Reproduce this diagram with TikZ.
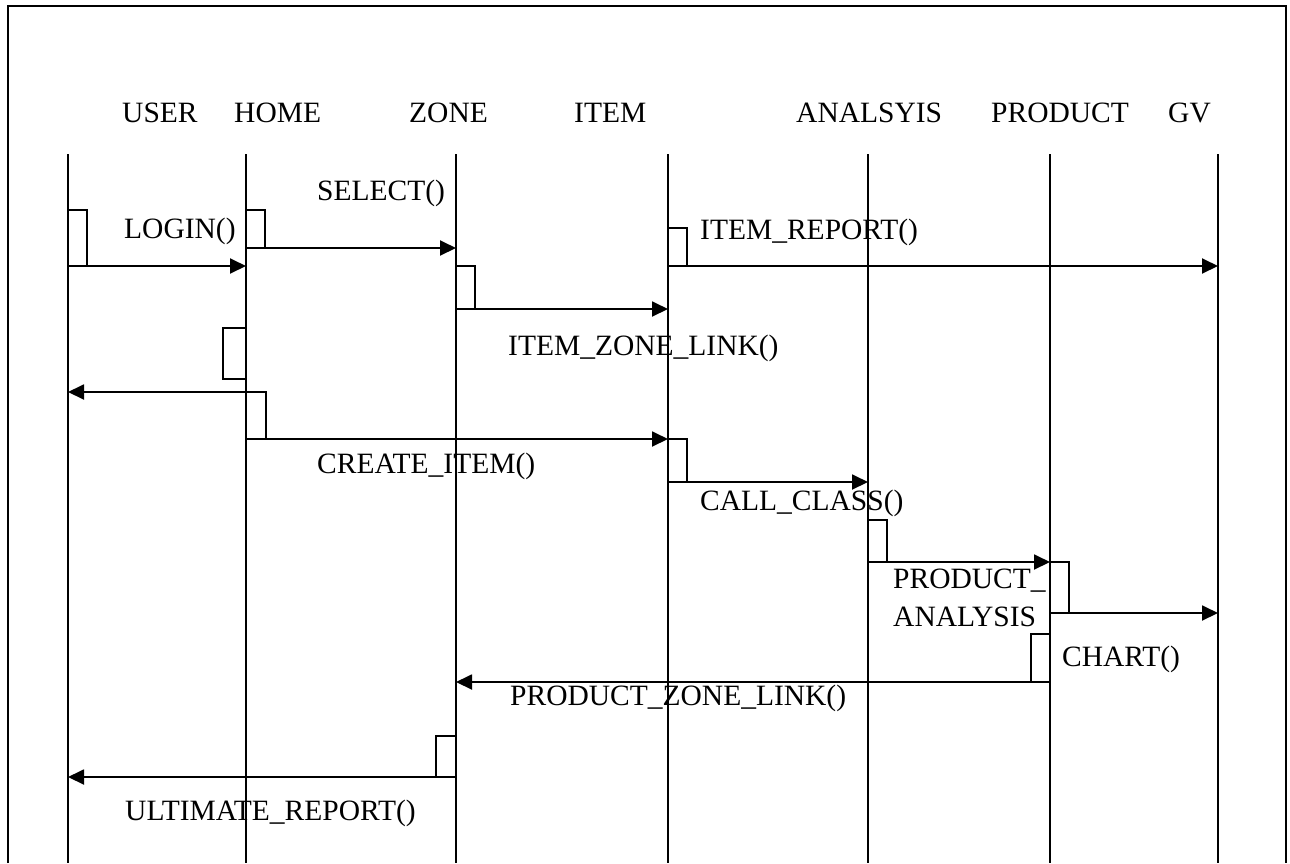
\documentclass[tikz,border=0pt]{standalone}
\usepackage{fontspec}
\setmainfont{Liberation Serif}
\usetikzlibrary{arrows.meta}
\begin{document}
\begin{tikzpicture}[x=1pt,y=-1pt,
  lbl/.style={anchor=base west, inner sep=0pt, font=\fontsize{29.5}{35}\selectfont},
  life/.style={line width=1.9pt},
  frame/.style={line width=2.4pt},
  actbox/.style={draw, line width=1.9pt, inner sep=0pt, outer sep=0pt, minimum width=19pt},
  msg/.style={line width=1.9pt, -{Triangle[length=16pt,width=15pt]}}
]
\useasboundingbox (0,0) rectangle (1290,863);
% frame
\coordinate (fbl) at (8,863);
\coordinate (ftl) at (8,6);
\coordinate (ftr) at (1286,6);
\coordinate (fbr) at (1286,863);
\draw[frame] (fbl) -- (ftl) -- (ftr) -- (fbr);
% headers
\node[lbl] (hUser) at (122,122) {USER};
\node[lbl] (hHome) at (234,122) {HOME};
\node[lbl] (hZone) at (409,122) {ZONE};
\node[lbl] (hItem) at (574,122) {ITEM};
\node[lbl] (hAna)  at (796,122) {ANALSYIS};
\node[lbl] (hProd) at (991,122) {PRODUCT};
\node[lbl] (hGv)   at (1168,122) {GV};
% lifelines
\coordinate (userT) at (68,154);   \coordinate (userB) at (68,863);
\coordinate (homeT) at (246,154);  \coordinate (homeB) at (246,863);
\coordinate (zoneT) at (456,154);  \coordinate (zoneB) at (456,863);
\coordinate (itemT) at (668,154);  \coordinate (itemB) at (668,863);
\coordinate (anaT)  at (868,154);  \coordinate (anaB)  at (868,863);
\coordinate (prodT) at (1050,154); \coordinate (prodB) at (1050,863);
\coordinate (gvT)   at (1218,154); \coordinate (gvB)   at (1218,863);
\foreach \l in {user,home,zone,item,ana,prod,gv}
  \draw[life] (\l T) -- (\l B);
% activation boxes
\node[actbox, minimum height=56pt, anchor=north west] (b1) at (68,210) {};
\node[actbox, minimum height=38pt, anchor=north west] (b2) at (246,210) {};
\node[actbox, minimum height=38pt, anchor=north west] (b3) at (668,228) {};
\node[actbox, minimum height=43pt, anchor=north west] (b4) at (456,266) {};
\node[actbox, minimum width=23pt, minimum height=51pt, anchor=north east] (b5) at (246,328) {};
\node[actbox, minimum width=20pt, minimum height=47pt, anchor=north west] (b6) at (246,392) {};
\node[actbox, minimum height=43pt, anchor=north west] (b7) at (668,439) {};
\node[actbox, minimum height=42pt, anchor=north west] (b8) at (868,520) {};
\node[actbox, minimum height=51pt, anchor=north west] (b9) at (1050,562) {};
\node[actbox, minimum height=48pt, anchor=north east] (b10) at (1050,634) {};
\node[actbox, minimum width=20pt, minimum height=41pt, anchor=north east] (b11) at (456,736) {};
% messages
\draw[msg] (b1.south west) -- (b1.south west -| homeT);
\draw[msg] (b2.south west) -- (b2.south west -| zoneT);
\draw[msg] (b3.south west) -- (b3.south west -| gvT);
\draw[msg] (b4.south west) -- (b4.south west -| itemT);
\draw[msg] (b6.north west) -- (b6.north west -| userT);
\draw[msg] (b6.south west) -- (b6.south west -| itemT);
\draw[msg] (b7.south west) -- (b7.south west -| anaT);
\draw[msg] (b8.south west) -- (b8.south west -| prodT);
\draw[msg] (b9.south west) -- (b9.south west -| gvT);
\draw[msg] (b10.south east) -- (b10.south east -| zoneT);
\draw[msg] (b11.south east) -- (b11.south east -| userT);
% labels
\node[lbl] (lLogin) at (124,238) {LOGIN()};
\node[lbl] (lSelect) at (317,200) {SELECT()};
\node[lbl] (lItemRep) at (700,239) {ITEM\_REPORT()};
\node[lbl] (lItemZone) at (508,355) {ITEM\_ZONE\_LINK()};
\node[lbl] (lCreate) at (317,473) {CREATE\_ITEM()};
\node[lbl] (lCall) at (700,510) {CALL\_CLASS()};
\node[lbl] (lProdA) at (893,588) {PRODUCT\_};
\node[lbl] (lProdB) at (893,626) {ANALYSIS};
\node[lbl] (lChart) at (1062,666) {CHART()};
\node[lbl] (lProdZone) at (510,705) {PRODUCT\_ZONE\_LINK()};
\node[lbl] (lUlt) at (125,820) {ULTIMATE\_REPORT()};
\end{tikzpicture}
\end{document}
